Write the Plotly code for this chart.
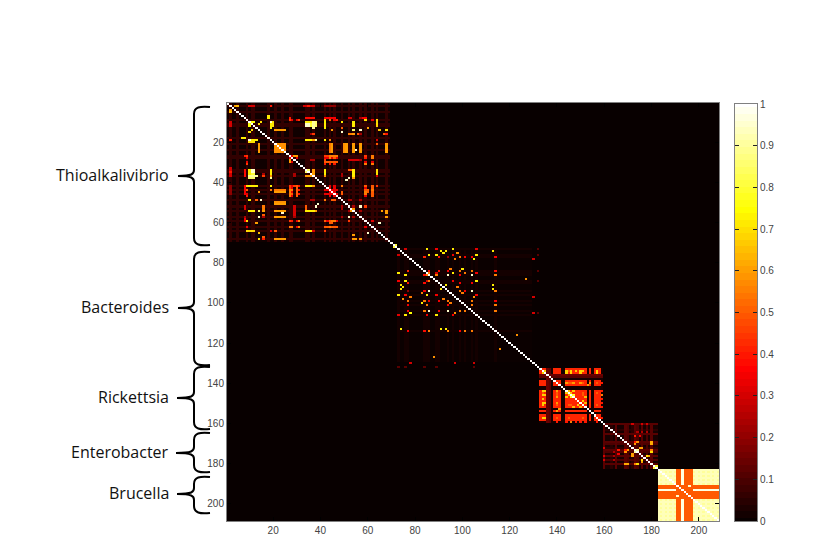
import numpy as np
import plotly.graph_objects as go

N = 208
TICKS = [20, 40, 60, 80, 100, 120, 140, 160, 180, 200]
CBAR_TICKS = [0, 0.1, 0.2, 0.3, 0.4, 0.5, 0.6, 0.7, 0.8, 0.9, 1]

def span(a, b):
    return list(range(a, b + 1))

# background level of each cluster block: first index, last index, value
BLOCKS = [(1, 69, 0.012), (73, 129, 0.004), (133, 159, 0.02), (160, 182, 0.02)]

# faint lattices (row/col indices that are slightly lit inside the block)
THIO_FAINT = [2, 5, 9, 11, 12, 18, 21, 24, 27, 28, 34, 35, 37, 42, 44, 46, 49, 52, 54, 57, 59, 62, 64, 68]
BACT_FAINT = [73, 76, 77, 84, 85, 86, 89, 90, 94, 96, 99, 101, 104, 106, 114]
ENTERO_FAINT = [160, 163, 165, 169, 170, 172, 174, 176, 178, 180]

O = span(21, 25)
THIO_RED_ROWS = [27, 28, 30, 44, 46, 59, 62]
THIO_RED_COLS = [9, 27, 28, 42, 43, 45, 46, 47, 59, 62]
THIO = [
    (THIO_RED_ROWS, THIO_RED_COLS, 0.33), ([10, 11, 12, 19, 35, 37], [2, 64], 0.3), ([8, 16, 29, 49, 54], [36, 37, 52, 53, 57], 0.24),
    ([2], [5], 0.65), ([4], [2], 0.6), ([2], [11, 12], 0.25), ([2], span(33, 37), 0.3), ([2], span(42, 46), 0.2),
    ([7], [18], 0.72), ([8], [27], 0.4), ([8], span(34, 37), 0.38), ([8], span(42, 46), 0.35), ([8], [52, 53], 0.3), ([8], [58, 59], 0.35),
    ([10, 11, 12], [2], 0.3), ([10, 11, 12], [10], 0.75), ([10], [34, 35], 0.72), ([11, 12], [34, 35], 0.95), ([10, 11, 12], [38], 0.85),
    ([10, 11, 12], [42], 0.72), ([10], [49], 0.72), ([10, 11, 12], [54], 0.7), ([10, 11, 12], [64], 0.68), ([10, 11, 12], [20], 0.7),
    ([14], O, 0.58), ([14], [45], 0.6), ([15], [49], 0.95), ([14], [57], 0.9), ([14], [54], 0.85), ([14], [11], 0.7), ([15], [10], 0.7),
    ([16], [37], 0.45), ([16], [52, 53, 54], 0.55), ([16], [68], 0.4), ([14], [68], 0.4),
    ([18], [8], 0.72), ([19], [2], 0.4), ([19], [10], 0.95), ([19], [11, 12, 13], 0.72), ([19], [34, 35, 36], 0.72), ([19], [38], 0.9), ([19], [42], 0.72), ([19], [44], 0.55),
    (O, O, 0.58), (O, [14], 0.6), (O, [45], 0.6), (O, [51], 0.6), (O, [54], 0.6), (O, [57], 0.6), (O, [68], 0.6), ([24], [55], 0.95),
    ([27, 31], [9], 0.45), ([27], [42, 43], 0.45), ([27], [45, 46, 47], 0.55), ([27], [59], 0.45), ([27], [62], 0.5), ([29, 30], [27], 0.6),
    ([30], span(42, 47), 0.5), ([31], [42, 44, 46], 0.4), ([31], [59], 0.55), ([31], [62], 0.55), ([29], span(52, 56), 0.3),
    ([35], [2], 0.4), ([34, 35, 36], [10], 0.72), ([34, 35, 36], [11, 12], 0.8), ([34, 35], [19], 0.72), ([34, 35], [34, 35], 0.85), ([34, 35], [42], 0.72),
    ([35, 36], [54], 0.6), ([34], [52, 53], 0.5), ([35, 36], [64], 0.7), ([37], span(10, 13), 0.9), ([37], [19], 0.6), ([37], [34, 35, 36], 0.6), ([37], [42], 0.6),
    ([38], [52], 0.95), ([38], [54], 0.6),
    ([42], [9], 0.7), ([42], [11, 12, 13], 0.72), ([42], [34, 35, 36], 0.72), ([42], [27, 29], 0.45), ([44], [9], 0.5), ([44], O, 0.55), ([44], [27, 28], 0.55),
    ([44, 45], [59, 60], 0.5), ([44], [62], 0.55), ([46], [27, 28], 0.5), ([47], [9], 0.4), ([47], [62], 0.4),
    ([49], [10], 0.72), ([49], [15], 0.95), ([49], [13], 0.5), ([50], O, 0.58), ([51], [39], 0.95), ([49], [42], 0.55), ([49], [45, 46], 0.5),
    ([54], [10, 11, 12], 0.72), ([54], [16], 0.6), ([54], O, 0.6), ([55], [24], 0.95), ([54], span(34, 37), 0.72), ([54], [53], 0.6), ([57], [14], 0.95), ([57], O, 0.6), ([57], [52], 0.95), ([56], [16], 0.5),
    ([59], [9], 0.7), ([59], [27, 28], 0.4), ([59], [42], 0.5), ([59], [45, 46], 0.55), ([59], [52], 0.45), ([62], [27, 28], 0.55), ([62], span(42, 47), 0.5), ([60], [13], 0.6),
    ([64], [9], 0.7), ([64], [11], 0.7), ([64], [21], 0.5), ([64], [34, 35, 36], 0.7), ([64], [42], 0.45), ([65], [14], 0.65), ([65], [60], 0.95),
    ([68], [14], 0.7), ([68], O, 0.6), ([67], [16], 0.5), ([68], [54, 55], 0.6), ([68], [57], 0.6), ([66], [54], 0.6),
]

BACT = [
    ([73], [85], 0.72), ([73], [76], 0.25), ([73], [89], 0.35), ([74], [91, 93], 0.72), ([75], [92], 0.72), ([73], [96], 0.72), ([73], [106], 0.33), ([74], [113], 0.72), ([75], [98], 0.58),
    ([76], [73], 0.3), ([77], [84], 0.42), ([76], [86], 0.72), ([76], [89], 0.72), ([77], [90], 0.4), ([77], [94], 0.2), ([76], [96], 0.35), ([78], [97], 0.55), ([77], [99], 0.55), ([77], [101], 0.3),
    ([78], [105], 0.72), ([76], [106], 0.72), ([77], [104], 0.35), ([77], [114], 0.3), ([78], [130], 0.3),
    ([85], [73], 0.72), ([84], [77], 0.35), ([86], [76], 0.35), ([86], [84], 0.38), ([85], [86], 0.55), ([84], [90], 0.38), ([85], [89], 0.3), ([86], [94], 0.95), ([85], [96], 0.72), ([83], [95], 0.55),
    ([83], [100], 0.72), ([84], [99], 0.55), ([85], [101], 0.55), ([86], [104], 0.95), ([84], [104], 0.55), ([85], [106], 0.35), ([84], [114], 0.35), ([86], [114], 0.55),
    ([89], [73], 0.35), ([89], [76], 0.58), ([90], [77], 0.35), ([90], [84], 0.35), ([89], [86], 0.55), ([89], [96], 0.35), ([90], [99], 0.35), ([89], [106], 0.72), ([88], [127], 0.58),
    ([91], [74], 0.72), ([92], [75], 0.72), ([93], [74], 0.72), ([97], [78], 0.55), ([96], [73], 0.72), ([96], [76], 0.35), ([98], [75], 0.55), ([99], [77], 0.35),
    ([94], [84], 0.35), ([94], [86], 0.95), ([96], [85], 0.72), ([95], [83], 0.55), ([91], [93], 0.72), ([93], [91], 0.72), ([92], [98], 0.55), ([94], [99], 0.55), ([95], [100], 0.55),
    ([94], [104], 0.95), ([96], [106], 0.35), ([91], [113], 0.72), ([93], [113], 0.72), ([94], [114], 0.55), ([97], [130], 0.3), ([97], [105], 0.55),
    ([99], [84], 0.55), ([99], [86], 0.35), ([99], [90], 0.35), ([98], [92], 0.55), ([100], [95], 0.55), ([101], [94], 0.35), ([100], [83], 0.72), ([101], [85], 0.35), ([101], [77], 0.35),
    ([99], [104], 0.55), ([101], [104], 0.35), ([99], [114], 0.35), ([101], [114], 0.55),
    ([105], [78], 0.75), ([104], [77], 0.35), ([104], [84], 0.35), ([104], [86], 0.95), ([104], [90], 0.35), ([104], [94], 0.9), ([105], [97], 0.58), ([104], [99], 0.35), ([104], [101], 0.55),
    ([106], [96], 0.35), ([106], [89], 0.72), ([106], [85], 0.35), ([106], [76], 0.55), ([106], [73], 0.3), ([104], [114], 0.55), ([105], [130], 0.3),
    ([113], [74], 0.72), ([114], [77], 0.35), ([114], [84], 0.38), ([114], [86], 0.55), ([113], [91, 93], 0.72), ([114], [94], 0.55), ([114], [99], 0.35), ([114], [101], 0.55), ([114], [104], 0.55),
    ([116], [123], 0.58), ([127], [88], 0.58), ([130], [78, 97, 105], 0.22), ([132], [73, 76, 84, 89, 105], 0.12),
]

RICK_A = [133, 134, 135, 139, 140, 141] + span(144, 152) + [154, 156, 157, 158]
RICK = [
    (span(133, 159), [136], 0.14), ([136, 137], span(133, 159), 0.12),
    (RICK_A, RICK_A, 0.42), ([159], [140, 144, 146, 148, 150, 152, 157], 0.4),
    ([134, 140, 145, 151], [145, 146, 151, 157], 0.5),
    ([134, 144, 146, 150, 157], [134, 135], 0.68),
    ([134], [144, 146, 148, 151, 157], 0.66),
    ([140], [144, 147, 150, 154], 0.6),
    ([144, 146], [145, 147], 0.66), ([147], [146], 0.8),
    ([149], [151], 0.68), ([152], [150, 147], 0.64), ([159], [146], 0.55), ([153], [141], 0.6),
]

ENTERO = [
    (span(160, 182), [169, 170, 174, 176, 178, 180], 0.1), ([160, 165, 169, 173, 176, 180], span(160, 182), 0.12),
    ([160], [172, 176, 178], 0.3), ([164], [174, 176, 178], 0.25), ([169], [174, 180], 0.58), ([173], [180], 0.55), ([173], [169], 0.4), ([173], [170], 0.6),
    ([173], [174], 0.9), ([172], [175, 176], 0.6), ([180], [169, 170], 0.62), ([180], [174], 0.7), ([178], [178], 0.95), ([176], [178, 179], 0.6), ([177], [177], 0.72),
    ([179], [179], 0.75), ([178], [176], 0.72), ([166], [173], 0.35), ([173], [166], 0.4), ([175], [166], 0.35),
]

BRU_ALL = span(183, 208)
BRU_BAND = [191, 192, 194, 195, 196, 197]
BRU = [
    (BRU_ALL, BRU_ALL, 0.9),
    ([183, 185, 187, 189, 199, 201, 203, 205, 207], BRU_ALL, 0.93), (BRU_ALL, [193], 0.97), ([193], BRU_ALL, 0.97),
    ([190, 198], BRU_ALL, 0.86), (BRU_ALL, [190, 198], 0.86),
]
BRU_HOT = [(BRU_BAND, BRU_ALL, 0.5), ([191], [196], 0.95), ([196], [191], 0.95), ([192], [192], 0.9), ([195], [195], 0.9)]

GROUP_LABELS = ["Thioalkalivibrio", "Bacteroides", "Rickettsia", "Enterobacter", "Brucella"]
# brace top, nub and bottom in page pixels, nub tip x
BRACE_TOP = [107, 252, 367, 433, 477]
BRACE_MID = [176, 308, 398, 453, 494]
BRACE_BOT = [245, 365, 429, 472, 513]
BRACE_NUB = [178, 178, 177, 176, 177]

HOT = [[0, "rgb(8,0,0)"], [0.365, "rgb(255,0,0)"], [0.746, "rgb(255,255,0)"], [1, "rgb(255,255,255)"]]

z = np.zeros((N, N))

def put(patches):
    for rows, cols, v in patches:
        for r in rows:
            for c in cols:
                z[r - 1, c - 1] = max(z[r - 1, c - 1], v)
                z[c - 1, r - 1] = max(z[c - 1, r - 1], v)

for a, b, v in BLOCKS:
    put([(span(a, b), span(a, b), v)])
put([(span(1, 69), THIO_FAINT, 0.06), (span(73, 129), BACT_FAINT, 0.018), (span(160, 182), ENTERO_FAINT, 0.05)])
put(THIO)
put(BACT)
put(RICK)
put(ENTERO)
put(BRU)
# orange bands overwrite the pale block
for rows, cols, v in BRU_HOT:
    for r in rows:
        for c in cols:
            z[r - 1, c - 1] = v
            z[c - 1, r - 1] = v
# lit spots sitting next to the diagonal
put([(O, O, 0.58), ([71, 72], [71, 72], 0.8), ([182], [181], 0.8)])
for i in range(N):
    z[i, i] = 1.0

W, H = 830, 554
def px(x):
    return x / W
def py(y):
    return 1 - y / H

fig = go.Figure()
fig.add_trace(go.Heatmap(z=z, x=span(1, N), y=span(1, N), colorscale=HOT, zmin=0, zmax=1,
                         showscale=False, hoverinfo="skip"))
levels = np.linspace(0, 1, 64)
fig.add_trace(go.Heatmap(z=levels.reshape(-1, 1), y=levels, x=[0], colorscale=HOT, zmin=0, zmax=1,
                         showscale=False, xaxis="x2", yaxis="y2", hoverinfo="skip"))

axis_font = dict(family="Liberation Sans", size=10, color="#444444")
fig.update_layout(
    template="none",
    width=W, height=H, margin=dict(l=0, r=0, t=0, b=0), paper_bgcolor="white", plot_bgcolor="black",
    xaxis=dict(domain=[px(227), px(719)], range=[0.5, N + 0.5], tickvals=TICKS, ticks="inside", ticklen=4, tickcolor="black",
               showgrid=False, zeroline=False, showline=True, linecolor="#808080", mirror="ticks", tickfont=axis_font, anchor="y"),
    yaxis=dict(domain=[py(521), py(103)], range=[N + 0.5, 0.5], tickvals=TICKS, ticks="inside", ticklen=4, tickcolor="black",
               showgrid=False, zeroline=False, showline=True, linecolor="#808080", mirror="ticks", tickfont=axis_font, anchor="x"),
    xaxis2=dict(domain=[px(735), px(757)], range=[-0.5, 0.5], showticklabels=False, ticks="", showgrid=False, zeroline=False,
                showline=True, linecolor="#808080", mirror=True, anchor="y2"),
    yaxis2=dict(domain=[py(521), py(104)], range=[0, 1], tickvals=CBAR_TICKS, ticktext=[f"{t:g}" for t in CBAR_TICKS], side="right",
                ticks="inside", ticklen=4, tickcolor="#222222", showgrid=False, zeroline=False, showline=True, linecolor="#808080",
                mirror="ticks", tickfont=axis_font, anchor="x2"),
)

SPINE = 194
TIP = 210
for label, top, mid, bot, nub in zip(GROUP_LABELS, BRACE_TOP, BRACE_MID, BRACE_BOT, BRACE_NUB):
    path = (f"M {px(TIP)} {py(top)} C {px(200)} {py(top - 1)} {px(SPINE)} {py(top)} {px(SPINE)} {py(top + 7)} "
            f"L {px(SPINE)} {py(mid - 6)} C {px(SPINE)} {py(mid - 2)} {px(SPINE - 2)} {py(mid)} {px(nub)} {py(mid)} "
            f"C {px(SPINE - 2)} {py(mid)} {px(SPINE)} {py(mid + 2)} {px(SPINE)} {py(mid + 6)} "
            f"L {px(SPINE)} {py(bot - 7)} C {px(SPINE)} {py(bot)} {px(200)} {py(bot + 1)} {px(TIP)} {py(bot)}")
    fig.add_shape(type="path", path=path, xref="paper", yref="paper", line=dict(color="black", width=2))
    fig.add_annotation(text=label, x=px(171), y=py(mid - 1), xref="paper", yref="paper", xanchor="right", yanchor="middle",
                       showarrow=False, font=dict(family="Open Sans", size=16, color="#111111"))

fig.write_html("out.html", config={"displayModeBar": False}, post_script="document.body.style.margin='0';")
